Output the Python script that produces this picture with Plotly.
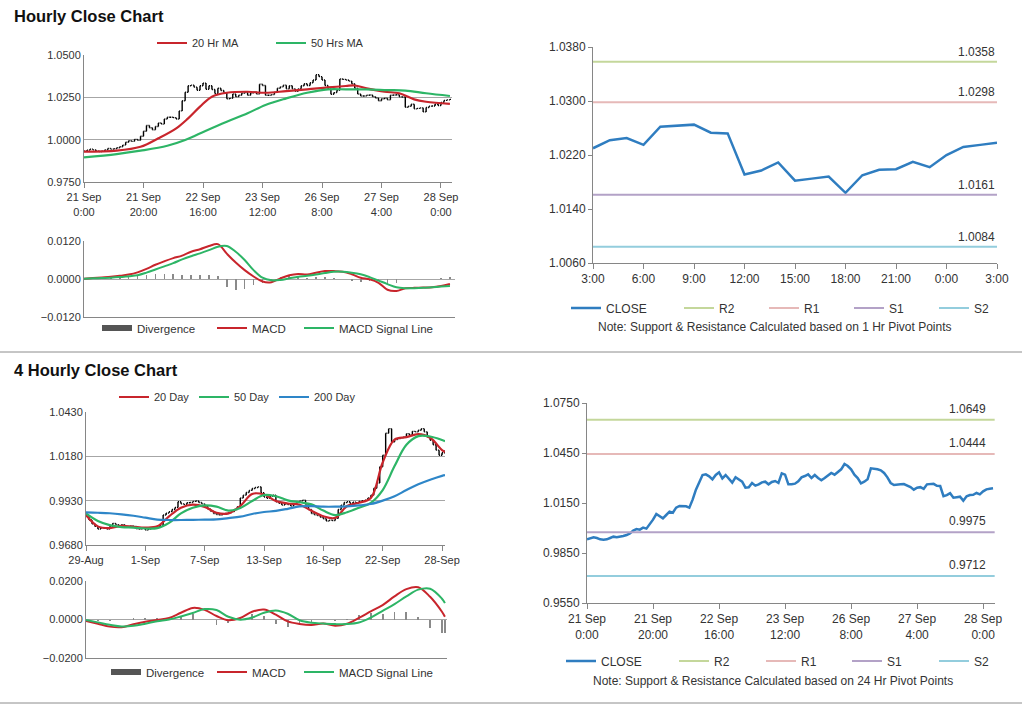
import plotly.graph_objects as go

W, H = 1024, 706
FONT = "Liberation Sans, Arial, sans-serif"
TXT = "#333333"
AX = "#868686"
GRID = "#a6a6a6"

# ---------------- DATA ----------------
# Hourly closes, 21 Sep 0:00 .. 28 Sep 3:00 (trading hours)
hourly_close = [
    0.9932, 0.9938, 0.9944, 0.9940, 0.9932, 0.9930, 0.9932, 0.9940, 0.9948, 0.9944,
    0.9946, 0.9952, 0.9958, 0.9968, 0.9985, 0.9994, 0.9990, 1.0002, 0.9996, 1.0020,
    1.0050, 1.0084, 1.0070, 1.0058, 1.0078, 1.0098, 1.0092, 1.0122, 1.0132, 1.0132,
    1.0130, 1.0122, 1.0170, 1.0230, 1.0280, 1.0318, 1.0322, 1.0310, 1.0292, 1.0318,
    1.0334, 1.0298, 1.0318, 1.0296, 1.0272, 1.0304, 1.0290, 1.0278, 1.0242, 1.0244,
    1.0270, 1.0254, 1.0262, 1.0274, 1.0278, 1.0262, 1.0276, 1.0282, 1.0270, 1.0328,
    1.0320, 1.0262, 1.0262, 1.0266, 1.0280, 1.0304, 1.0312, 1.0322, 1.0300, 1.0318,
    1.0300, 1.0286, 1.0300, 1.0318, 1.0330, 1.0320, 1.0336, 1.0352, 1.0384, 1.0372,
    1.0352, 1.0320, 1.0300, 1.0268, 1.0278, 1.0292, 1.0358, 1.0356, 1.0352, 1.0346,
    1.0330, 1.0304, 1.0270, 1.0258, 1.0258, 1.0262, 1.0264, 1.0254, 1.0246,
    1.0230, 1.0242, 1.0245, 1.0235, 1.0262, 1.0264, 1.0265, 1.0253, 1.0252, 1.0191,
    1.0197, 1.0209, 1.0182, 1.0185, 1.0188, 1.0164, 1.0190, 1.0198, 1.0199, 1.0210,
    1.0202, 1.0220, 1.0232, 1.0235, 1.0238,
]
hourly_ticks = ["21 Sep<br>0:00", "21 Sep<br>20:00", "22 Sep<br>16:00", "23 Sep<br>12:00",
                "26 Sep<br>8:00", "27 Sep<br>4:00", "28 Sep<br>0:00"]
hourly_tick_idx = [0, 20, 40, 60, 80, 100, 120]

ma20h_idx = [0, 11, 19, 25, 31, 35, 39, 43, 48, 55, 61, 68, 75, 82, 88, 91, 95, 101, 106, 111, 115, 123]
ma20h = [0.9929, 0.9935, 0.9958, 1.0008, 1.0067, 1.0126, 1.0195, 1.0254, 1.0277, 1.0283, 1.0277,
         1.0287, 1.0297, 1.0309, 1.0317, 1.0320, 1.0303, 1.0283, 1.0274, 1.0238, 1.0224, 1.0211]
ma50h_idx = [0, 11, 19, 28, 34, 41, 48, 55, 61, 68, 75, 82, 88, 95, 102, 108, 115, 123]
ma50h = [0.9896, 0.9915, 0.9935, 0.9964, 0.9998, 1.0053, 1.0106, 1.0156, 1.0205, 1.0244, 1.0277,
         1.0297, 1.0297, 1.0297, 1.0293, 1.0290, 1.0274, 1.0258]

macd_h_idx = list(range(0, 124, 3))
macd_h = [0.0001, 0.0003, 0.0005, 0.0007, 0.0010, 0.0014, 0.0021, 0.0032, 0.0045, 0.0056,
          0.0066, 0.0074, 0.0086, 0.0094, 0.0104, 0.0110, 0.0080, 0.0052, 0.0028, 0.0008,
          -0.0008, -0.0010, 0.0002, 0.0012, 0.0016, 0.0014, 0.0020, 0.0025, 0.0025, 0.0023,
          0.0015, 0.0004, -0.0001, -0.0012, -0.0034, -0.0038, -0.0029, -0.0028, -0.0027, -0.0026,
          -0.0022, -0.0016]
signal_h = [0.0001, 0.0002, 0.0003, 0.0004, 0.0006, 0.0009, 0.0012, 0.0020, 0.0030, 0.0040,
            0.0050, 0.0062, 0.0072, 0.0081, 0.0091, 0.0102, 0.0104, 0.0086, 0.0060, 0.0028,
            0.0004, -0.0004, -0.0003, 0.0002, 0.0007, 0.0010, 0.0014, 0.0019, 0.0023, 0.0023,
            0.0020, 0.0015, 0.0006, -0.0005, -0.0016, -0.0026, -0.0029, -0.0029, -0.0028, -0.0026,
            -0.0024, -0.0022]

last_hours_ticks = ["3:00", "6:00", "9:00", "12:00", "15:00", "18:00", "21:00", "0:00", "3:00"]
level_names = ["R2", "R1", "S1", "S2"]
levels_1h = [1.0358, 1.0298, 1.0161, 1.0084]
levels_24h = [1.0649, 1.0444, 0.9975, 0.9712]

# 4-hourly closes, 29 Aug .. 28 Sep
four_h_close = [
    0.9849, 0.9821, 0.9800, 0.9785, 0.9770, 0.9778, 0.9774, 0.9770, 0.9785, 0.9802,
    0.9795, 0.9789, 0.9795, 0.9782, 0.9780, 0.9788, 0.9785, 0.9772, 0.9770, 0.9776,
    0.9764, 0.9770, 0.9775, 0.9778, 0.9782, 0.9790, 0.9849, 0.9860, 0.9868, 0.9880,
    0.9892, 0.9924, 0.9912, 0.9909, 0.9918, 0.9920, 0.9926, 0.9928, 0.9920, 0.9912,
    0.9898, 0.9883, 0.9870, 0.9858, 0.9852, 0.9849, 0.9855, 0.9858, 0.9862, 0.9868,
    0.9880, 0.9896, 0.9945, 0.9961, 0.9976, 0.9988, 0.9999, 1.0004, 1.0008, 0.9975,
    0.9950, 0.9943, 0.9955, 0.9961, 0.9924, 0.9915, 0.9905, 0.9912, 0.9908, 0.9900,
    0.9912, 0.9920, 0.9928, 0.9933, 0.9910, 0.9880, 0.9858, 0.9850, 0.9846, 0.9836,
    0.9828, 0.9815, 0.9820, 0.9818, 0.9830, 0.9880, 0.9905, 0.9920, 0.9924, 0.9915,
    0.9922, 0.9918, 0.9925, 0.9930, 0.9933, 0.9945, 0.9961, 1.0000, 1.0030, 1.0121,
    1.0186, 1.0310, 1.0336, 1.0261, 1.0275, 1.0280, 1.0285, 1.0289, 1.0308, 1.0300,
    1.0321, 1.0318, 1.0327, 1.0336, 1.0318, 1.0290, 1.0271, 1.0245, 1.0215, 1.0186,
    1.0200, 1.0214,
]
four_h_ticks = ["29-Aug", "1-Sep", "7-Sep", "13-Sep", "16-Sep", "22-Sep", "28-Sep"]
four_h_tick_idx = [0, 20, 40, 60, 80, 100, 120]

ma4_idx = [0, 4, 8, 12, 16, 20, 24, 28, 32, 36, 40, 44, 48, 52, 56, 60, 64, 68, 72, 76, 80, 84,
           88, 92, 96, 100, 104, 108, 112, 116, 120, 121]
ma20d = [0.9849, 0.9785, 0.9775, 0.9788, 0.9783, 0.9778, 0.9785, 0.9842, 0.9890, 0.9908, 0.9895,
         0.9862, 0.9858, 0.9900, 0.9968, 0.9965, 0.9928, 0.9914, 0.9907, 0.9873, 0.9842, 0.9833,
         0.9900, 0.9918, 0.9945, 1.0145, 1.0274, 1.0288, 1.0305, 1.0285, 1.0215, 1.0205]
ma50d = [0.9858, 0.9815, 0.9792, 0.9781, 0.9778, 0.9773, 0.9775, 0.9805, 0.9858, 0.9890, 0.9903,
         0.9896, 0.9874, 0.9889, 0.9928, 0.9962, 0.9955, 0.9932, 0.9921, 0.9909, 0.9874, 0.9849,
         0.9865, 0.9890, 0.9918, 0.9990, 1.0125, 1.0245, 1.0294, 1.0292, 1.0272, 1.0265]
ma200d = [0.9864, 0.9862, 0.9859, 0.9853, 0.9845, 0.9834, 0.9823, 0.9821, 0.9821, 0.9822, 0.9823,
          0.9824, 0.9832, 0.9840, 0.9855, 0.9866, 0.9872, 0.9884, 0.9898, 0.9899, 0.9896, 0.9896,
          0.9898, 0.9903, 0.9911, 0.9930, 0.9955, 0.9990, 1.0022, 1.0048, 1.0070, 1.0074]
macd_4 = [-0.0007, -0.0022, -0.0037, -0.0040, -0.0025, -0.0012, -0.0003, 0.0008, 0.0035, 0.0060,
          0.0050, 0.0018, -0.0004, 0.0008, 0.0040, 0.0052, 0.0025, -0.0010, -0.0023, -0.0028,
          -0.0021, -0.0032, -0.0022, 0.0008, 0.0042, 0.0075, 0.0120, 0.0158, 0.0168, 0.0118,
          0.0040, 0.0014]
signal_4 = [-0.0003, -0.0015, -0.0027, -0.0036, -0.0033, -0.0022, -0.0009, 0.0000, 0.0016, 0.0034,
            0.0054, 0.0049, 0.0014, -0.0001, 0.0010, 0.0035, 0.0047, 0.0030, -0.0004, -0.0017,
            -0.0021, -0.0024, -0.0024, -0.0016, 0.0010, 0.0045, 0.0080, 0.0120, 0.0155, 0.0160,
            0.0108, 0.0085]

# ---------------- STYLE ----------------
RED = "#C8252C"
GREEN = "#2DB566"
BLUE = "#2E86C8"
CLOSE_BLUE = "#2F7DC0"
LEVEL_COLORS = ["#C4D79B", "#E6B9B8", "#B3A2C7", "#93CDDD"]
DIV_GRAY = "#8a8a8a"


def px(x):
    return x / W


def py(y):
    return 1 - y / H


def xdom(x0, x1):
    return [px(x0), px(x1)]


def ydom(y0, y1):
    return [py(y1), py(y0)]


fig = go.Figure()
legends = {}
_leg_count = [0]


def new_legend(line_start, y, size=11):
    """Create a one-item legend whose symbol starts at pixel line_start."""
    _leg_count[0] += 1
    key = "legend" if _leg_count[0] == 1 else f"legend{_leg_count[0]}"
    legends[key] = dict(x=px(line_start - 6), y=py(y), xanchor="left", yanchor="middle",
                        orientation="h", bgcolor="rgba(0,0,0,0)", borderwidth=0, itemwidth=30,
                        font=dict(family=FONT, size=size, color=TXT),
                        itemclick=False, itemdoubleclick=False)
    return key


# ---- Panel 1: hourly price ----
opens_h = [hourly_close[0]] + hourly_close[:-1]
idx_h = list(range(len(hourly_close)))
fig.add_trace(go.Ohlc(
    x=idx_h, open=opens_h, close=hourly_close,
    high=[max(o, c) for o, c in zip(opens_h, hourly_close)],
    low=[min(o, c) for o, c in zip(opens_h, hourly_close)],
    increasing=dict(line=dict(color="black", width=1.4)),
    decreasing=dict(line=dict(color="black", width=1.4)),
    tickwidth=0.35, showlegend=False, xaxis="x", yaxis="y", hoverinfo="skip"))
fig.add_trace(go.Scatter(x=ma20h_idx, y=ma20h, mode="lines", name="20 Hr MA",
                         line=dict(color=RED, width=2.2, shape="spline"), xaxis="x", yaxis="y",
                         legend=new_legend(158, 43)))
fig.add_trace(go.Scatter(x=ma50h_idx, y=ma50h, mode="lines", name="50 Hrs MA",
                         line=dict(color=GREEN, width=2.2, shape="spline"), xaxis="x", yaxis="y",
                         legend=new_legend(277, 43)))

# ---- Panel 2: hourly MACD ----
div_h = [m - s for m, s in zip(macd_h, signal_h)]
fig.add_trace(go.Bar(x=macd_h_idx, y=div_h, width=0.55, marker=dict(color=DIV_GRAY, line=dict(width=0)),
                     showlegend=False, xaxis="x2", yaxis="y2"))
fig.add_trace(go.Scatter(x=[None], y=[None], mode="lines", name="Divergence",
                         line=dict(color="#555555", width=6), xaxis="x2", yaxis="y2",
                         legend=new_legend(103, 328, 11.5)))
fig.add_trace(go.Scatter(x=macd_h_idx, y=macd_h, mode="lines", name="MACD",
                         line=dict(color=RED, width=2, shape="spline"), xaxis="x2", yaxis="y2",
                         legend=new_legend(218, 328, 11.5)))
fig.add_trace(go.Scatter(x=macd_h_idx, y=signal_h, mode="lines", name="MACD Signal Line",
                         line=dict(color=GREEN, width=2, shape="spline"), xaxis="x2", yaxis="y2",
                         legend=new_legend(305, 328, 11.5)))

# ---- Panel 3: last 25 hours with 1 Hr pivots ----
close_1h = hourly_close[-25:]
idx_1h = list(range(len(close_1h)))
fig.add_trace(go.Scatter(x=idx_1h, y=close_1h, mode="lines", name="CLOSE",
                         line=dict(color=CLOSE_BLUE, width=2.5), xaxis="x3", yaxis="y3",
                         legend=new_legend(572, 308, 12)))
for name, lv, col, ls in zip(level_names, levels_1h, LEVEL_COLORS, [685, 770, 855, 940]):
    fig.add_trace(go.Scatter(x=[idx_1h[0], idx_1h[-1]], y=[lv, lv], mode="lines", name=name,
                             line=dict(color=col, width=2), xaxis="x3", yaxis="y3",
                             legend=new_legend(ls, 308, 12)))

# ---- Panel 4: 4-hourly price ----
opens_4 = [four_h_close[0]] + four_h_close[:-1]
idx_4 = list(range(len(four_h_close)))
fig.add_trace(go.Ohlc(
    x=idx_4, open=opens_4, close=four_h_close,
    high=[max(o, c) for o, c in zip(opens_4, four_h_close)],
    low=[min(o, c) for o, c in zip(opens_4, four_h_close)],
    increasing=dict(line=dict(color="black", width=1.4)),
    decreasing=dict(line=dict(color="black", width=1.4)),
    tickwidth=0.35, showlegend=False, xaxis="x4", yaxis="y4", hoverinfo="skip"))
fig.add_trace(go.Scatter(x=ma4_idx, y=ma20d, mode="lines", name="20 Day",
                         line=dict(color=RED, width=2.2, shape="spline"), xaxis="x4", yaxis="y4",
                         legend=new_legend(120, 397)))
fig.add_trace(go.Scatter(x=ma4_idx, y=ma50d, mode="lines", name="50 Day",
                         line=dict(color=GREEN, width=2.2, shape="spline"), xaxis="x4", yaxis="y4",
                         legend=new_legend(200, 397)))
fig.add_trace(go.Scatter(x=ma4_idx, y=ma200d, mode="lines", name="200 Day",
                         line=dict(color=BLUE, width=2.2, shape="spline"), xaxis="x4", yaxis="y4",
                         legend=new_legend(280, 397)))

# ---- Panel 5: 4-hourly MACD ----
div_4 = [m - s for m, s in zip(macd_4, signal_4)]
fig.add_trace(go.Bar(x=ma4_idx, y=div_4, width=0.6, marker=dict(color=DIV_GRAY, line=dict(width=0)),
                     showlegend=False, xaxis="x5", yaxis="y5"))
fig.add_trace(go.Scatter(x=[None], y=[None], mode="lines", name="Divergence",
                         line=dict(color="#555555", width=6), xaxis="x5", yaxis="y5",
                         legend=new_legend(112, 672, 11.5)))
fig.add_trace(go.Scatter(x=ma4_idx, y=macd_4, mode="lines", name="MACD",
                         line=dict(color=RED, width=2, shape="spline"), xaxis="x5", yaxis="y5",
                         legend=new_legend(218, 672, 11.5)))
fig.add_trace(go.Scatter(x=ma4_idx, y=signal_4, mode="lines", name="MACD Signal Line",
                         line=dict(color=GREEN, width=2, shape="spline"), xaxis="x5", yaxis="y5",
                         legend=new_legend(305, 672, 11.5)))

# ---- Panel 6: hourly close with 24 Hr pivots ----
fig.add_trace(go.Scatter(x=idx_h, y=hourly_close, mode="lines", name="CLOSE",
                         line=dict(color=CLOSE_BLUE, width=2.5), xaxis="x6", yaxis="y6",
                         legend=new_legend(567, 661, 12)))
for name, lv, col, ls in zip(level_names, levels_24h, LEVEL_COLORS, [680, 767, 853, 940]):
    fig.add_trace(go.Scatter(x=[idx_h[0], idx_h[-1] + 0.5], y=[lv, lv], mode="lines", name=name,
                             line=dict(color=col, width=2), xaxis="x6", yaxis="y6",
                             legend=new_legend(ls, 661, 12)))


# ---------------- AXES ----------------
def xax(dom, rng, anchor, tickvals=None, ticktext=None, showlabels=True, size=11):
    return dict(domain=dom, range=rng, anchor=anchor, showgrid=False, zeroline=False,
                showline=True, linecolor=AX, linewidth=1, automargin=False,
                ticks="outside" if tickvals is not None else "", ticklen=5, tickcolor=AX,
                tickvals=tickvals if tickvals is not None else [], ticktext=ticktext,
                showticklabels=showlabels,
                tickfont=dict(family=FONT, size=size, color=TXT), rangeslider=dict(visible=False),
                fixedrange=True)


def yax(dom, rng, anchor, dtick, grid=True, ticks="", size=11):
    return dict(domain=dom, range=rng, anchor=anchor, dtick=dtick, tick0=rng[0], automargin=False,
                tickformat=".4f", showgrid=grid, gridcolor=GRID, gridwidth=1, zeroline=False,
                showline=True, linecolor=AX, linewidth=1, ticks=ticks, ticklen=4, tickcolor=AX,
                tickfont=dict(family=FONT, size=size, color=TXT), fixedrange=True)


layout = dict(
    width=W, height=H, margin=dict(l=0, r=0, t=0, b=0, pad=0), autosize=False,
    paper_bgcolor="white", plot_bgcolor="white", hovermode=False,
    font=dict(family=FONT, size=11, color=TXT),
    bargap=0,
    xaxis=xax(xdom(84, 452), [0, 123.7], "y", hourly_tick_idx, hourly_ticks),
    yaxis=yax(ydom(55, 182), [0.975, 1.05], "x", 0.025),
    xaxis2=xax(xdom(84, 455), [0, 124.7], "y2", showlabels=False),
    yaxis2=yax(ydom(241, 317), [-0.012, 0.012], "x2", 0.012),
    xaxis3=xax(xdom(593, 997), [0, 24], "y3", list(range(0, 25, 3)), last_hours_ticks, size=12),
    yaxis3=yax(ydom(47, 263), [1.006, 1.038], "x3", 0.008, grid=False, ticks="outside", size=12),
    xaxis4=xax(xdom(86, 445), [0, 121], "y4", four_h_tick_idx, four_h_ticks),
    yaxis4=yax(ydom(412, 545), [0.968, 1.043], "x4", 0.025),
    xaxis5=xax(xdom(86, 447), [0, 121.7], "y5", showlabels=False),
    yaxis5=yax(ydom(581, 658), [-0.02, 0.02], "x5", 0.02),
    xaxis6=xax(xdom(587, 995), [0, 123.6], "y6", hourly_tick_idx, hourly_ticks, size=12),
    yaxis6=yax(ydom(403, 603), [0.955, 1.075], "x6", 0.03, grid=False, ticks="outside", size=12),
)
layout.update(legends)
fig.update_layout(**layout)

# ---------------- ANNOTATIONS ----------------
ann = []
ann.append(dict(text="<b>Hourly Close Chart</b>", x=px(12), y=py(16), xref="paper", yref="paper",
                xanchor="left", yanchor="middle", showarrow=False, font=dict(family=FONT, size=16.5, color="#111")))
ann.append(dict(text="<b>4 Hourly Close Chart</b>", x=px(12), y=py(370), xref="paper", yref="paper",
                xanchor="left", yanchor="middle", showarrow=False, font=dict(family=FONT, size=16.5, color="#111")))
ann.append(dict(text="Note: Support & Resistance Calculated based on 1 Hr Pivot Points", x=px(775), y=py(327),
                xref="paper", yref="paper", xanchor="center", yanchor="middle", showarrow=False,
                font=dict(family=FONT, size=12, color=TXT)))
ann.append(dict(text="Note: Support & Resistance Calculated based on 24 Hr Pivot Points", x=px(773), y=py(681),
                xref="paper", yref="paper", xanchor="center", yanchor="middle", showarrow=False,
                font=dict(family=FONT, size=12, color=TXT)))
for lv in levels_1h:
    ann.append(dict(text=f"{lv:.4f}", x=px(997), y=lv, xref="paper", yref="y3", xanchor="right",
                    yanchor="bottom", yshift=1, showarrow=False, font=dict(family=FONT, size=12, color=TXT)))
for lv in levels_24h:
    ann.append(dict(text=f"{lv:.4f}", x=px(988), y=lv, xref="paper", yref="y6", xanchor="right",
                    yanchor="bottom", yshift=2, showarrow=False, font=dict(family=FONT, size=12, color=TXT)))
fig.update_layout(annotations=ann)

fig.update_layout(shapes=[
    dict(type="line", xref="paper", yref="paper", x0=0, x1=px(1022), y0=py(352), y1=py(352),
         line=dict(color="#8c8c8c", width=1)),
    dict(type="line", xref="paper", yref="paper", x0=0, x1=px(1022), y0=py(703), y1=py(703),
         line=dict(color="#8c8c8c", width=1)),
])

fig.write_html("out.html", config={"displayModeBar": False, "staticPlot": True},
               post_script="document.body.style.margin='0';document.body.style.overflow='hidden';")
